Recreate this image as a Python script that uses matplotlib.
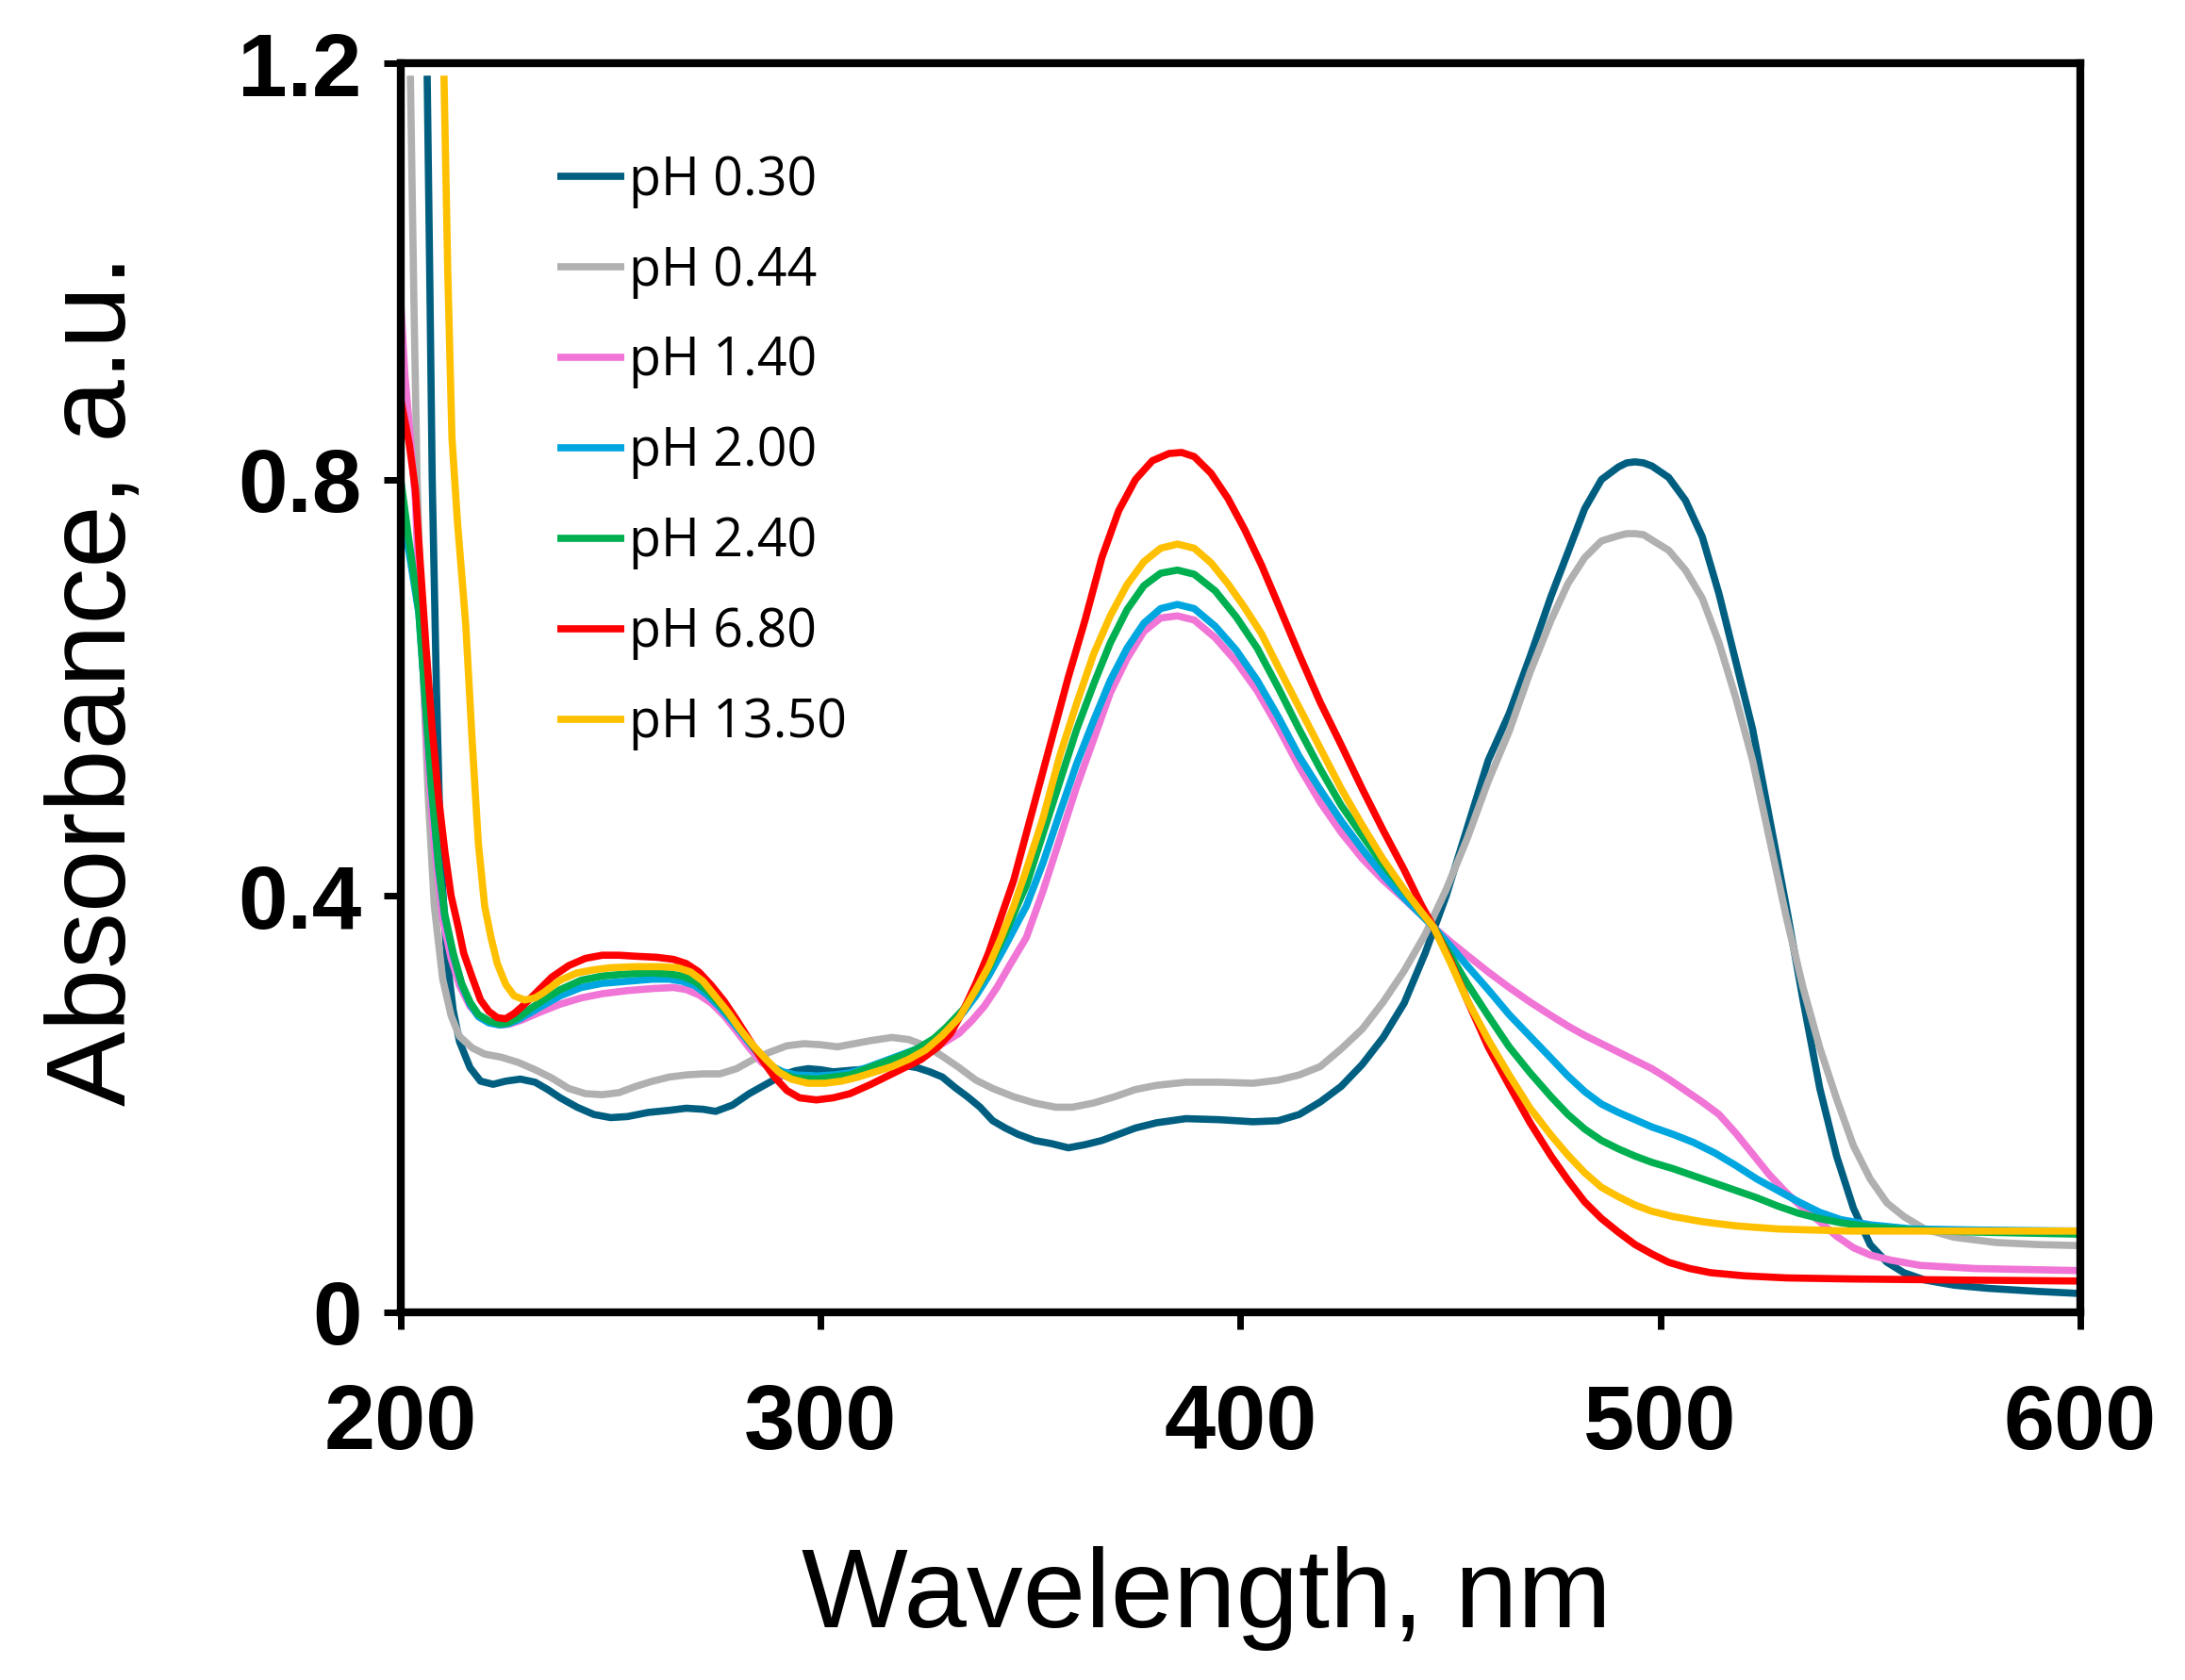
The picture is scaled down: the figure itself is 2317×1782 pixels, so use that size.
import matplotlib
matplotlib.use("Agg")
import matplotlib.pyplot as plt

# -----------------------------
# Data
# -----------------------------
wl_030 = [206.3, 206.9, 207.5, 208.5, 209.5, 211, 212.5, 214, 216.5, 219, 222, 225, 228.5, 232, 235, 238,
          242, 246, 250, 254, 259, 264, 268, 272, 275, 279, 283, 287, 291, 294, 297, 300, 303, 306, 309,
          313, 317, 320, 323, 326, 329, 332, 335, 338, 341, 344, 347, 351, 355, 359, 363, 367, 371, 375,
          380, 387, 395, 403, 409, 414, 419, 424, 429, 434, 439, 444, 449, 454, 459, 464, 469, 474, 478,
          482, 486, 490, 492, 494, 496, 498, 502, 506, 510, 514, 518, 522, 526, 530, 534, 538, 542, 546,
          550, 554, 558, 563, 570, 578, 590, 600]
abs_030 = [1.188, 1.0, 0.8, 0.6, 0.44, 0.34, 0.29, 0.26, 0.235, 0.222, 0.219, 0.222, 0.224, 0.221, 0.214,
           0.206, 0.197, 0.19, 0.187, 0.188, 0.192, 0.194, 0.196, 0.195, 0.193, 0.199, 0.21, 0.219, 0.228,
           0.232, 0.234, 0.233, 0.231, 0.232, 0.233, 0.234, 0.236, 0.237, 0.235, 0.231, 0.226, 0.216, 0.207,
           0.197, 0.184, 0.177, 0.171, 0.165, 0.162, 0.158, 0.161, 0.165, 0.171, 0.177, 0.182, 0.186, 0.185,
           0.183, 0.184, 0.19, 0.202, 0.217, 0.238, 0.264, 0.297, 0.345, 0.4, 0.465, 0.53, 0.575, 0.63,
           0.688, 0.73, 0.772, 0.8, 0.812, 0.816, 0.817, 0.816, 0.813, 0.802, 0.78, 0.745, 0.69, 0.625,
           0.56, 0.475, 0.39, 0.3, 0.215, 0.15, 0.1, 0.065, 0.048, 0.038, 0.031, 0.026, 0.023, 0.02, 0.018]

wl_044 = [202.3, 203.1, 203.9, 204.5, 205.5, 206.5, 208, 210, 212, 214, 217, 220, 224, 228, 232, 236, 240,
          244, 248, 252, 256, 260, 264, 268, 272, 276, 280, 284, 288, 292, 296, 300, 304, 308, 312, 317,
          321, 325, 329, 333, 337, 341, 346, 351, 356, 360, 365, 370, 375, 380, 387, 395, 403, 409, 414,
          419, 424, 429, 434, 439, 444, 449, 454, 459, 464, 469, 474, 478, 482, 486, 490, 492, 494, 496,
          498, 502, 506, 510, 514, 518, 522, 526, 530, 534, 538, 542, 546, 550, 554, 558, 563, 570, 580,
          590, 600]
abs_044 = [1.188, 0.98, 0.8, 0.72, 0.6, 0.5, 0.39, 0.32, 0.285, 0.265, 0.254, 0.248, 0.245, 0.24, 0.233,
           0.225, 0.215, 0.21, 0.209, 0.211, 0.217, 0.222, 0.226, 0.228, 0.229, 0.229, 0.234, 0.243, 0.25,
           0.256, 0.258, 0.257, 0.255, 0.258, 0.261, 0.264, 0.262, 0.256, 0.246, 0.235, 0.223, 0.215, 0.207,
           0.201, 0.197, 0.197, 0.201, 0.207, 0.214, 0.218, 0.221, 0.221, 0.22, 0.223, 0.228, 0.236, 0.253,
           0.272, 0.298, 0.328, 0.363, 0.406, 0.455, 0.51, 0.558, 0.615, 0.665, 0.7, 0.725, 0.741, 0.746,
           0.748, 0.748, 0.747, 0.742, 0.732, 0.713, 0.686, 0.643, 0.59, 0.53, 0.455, 0.38, 0.312, 0.254,
           0.205, 0.16, 0.128, 0.105, 0.092, 0.08, 0.072, 0.067, 0.065, 0.064]

wl_140 = [200, 201, 202.3, 203.5, 204.3, 206.3, 208, 210, 212, 214, 216.5, 219, 221.5, 224, 226, 229, 233,
          238, 243, 248, 254, 260, 265, 268, 271, 274, 277, 280, 283, 286, 289, 292, 296, 300, 305, 310,
          315, 320, 325, 329, 333, 336, 339, 342, 345, 349, 353, 357, 361, 365, 369, 373, 377, 381, 385,
          389, 394, 399, 404, 409, 414, 419, 424, 429, 434, 439, 443, 446, 450, 454, 459, 464, 469, 474,
          478, 482, 486, 490, 494, 498, 502, 506, 510, 514, 518, 522, 526, 530, 534, 538, 542, 546, 550,
          555, 562, 575, 600]
abs_140 = [0.97, 0.9, 0.84, 0.78, 0.7, 0.54, 0.45, 0.378, 0.34, 0.314, 0.294, 0.283, 0.278, 0.276, 0.277,
           0.281, 0.288, 0.296, 0.302, 0.306, 0.309, 0.311, 0.312, 0.31, 0.305, 0.297, 0.285, 0.27, 0.254,
           0.24, 0.231, 0.226, 0.225, 0.226, 0.228, 0.232, 0.238, 0.245, 0.251, 0.258, 0.268, 0.28, 0.294,
           0.312, 0.333, 0.36, 0.405, 0.455, 0.505, 0.55, 0.595, 0.628, 0.654, 0.667, 0.669, 0.665, 0.648,
           0.625, 0.597, 0.562, 0.524, 0.49, 0.461, 0.436, 0.415, 0.397, 0.382, 0.37, 0.356, 0.343, 0.327,
           0.312, 0.298, 0.285, 0.275, 0.266, 0.258, 0.25, 0.242, 0.234, 0.224, 0.213, 0.202, 0.19, 0.172,
           0.152, 0.132, 0.115, 0.1, 0.087, 0.073, 0.062, 0.055, 0.05, 0.045, 0.042, 0.04]

wl_base = [200, 202, 204.3, 206, 207.3, 209, 210.5, 212.5, 214.5, 216.5, 218.5, 221, 223.5, 225.5, 228, 231,
           234, 238, 243, 248, 254, 260, 264, 267, 270, 273, 276, 279, 282, 285, 288, 291, 294, 299, 303,
           307, 311, 315, 319, 323, 327, 330, 334, 337, 340, 344, 347, 349, 353, 357, 361, 365, 369, 373,
           377, 381, 385, 389, 394, 399, 404, 409, 414, 419, 424, 429, 434, 439, 443, 446, 450, 454, 459,
           464, 469, 474, 478, 482, 486, 490, 494, 498, 503, 508, 513, 518, 523, 528, 533, 538, 543, 550,
           560, 575, 600]
abs_200 = [0.77, 0.73, 0.672, 0.578, 0.505, 0.428, 0.38, 0.343, 0.315, 0.296, 0.284, 0.278, 0.276, 0.277,
           0.281, 0.288, 0.295, 0.304, 0.312, 0.316, 0.318, 0.32, 0.32, 0.318, 0.314, 0.305, 0.293, 0.279,
           0.264, 0.249, 0.237, 0.231, 0.228, 0.227, 0.228, 0.23, 0.235, 0.241, 0.247, 0.253, 0.262, 0.272,
           0.288, 0.304, 0.323, 0.352, 0.375, 0.39, 0.432, 0.48, 0.527, 0.568, 0.607, 0.638, 0.662, 0.676,
           0.68, 0.676, 0.659, 0.636, 0.607, 0.572, 0.534, 0.502, 0.472, 0.445, 0.42, 0.398, 0.382, 0.37,
           0.352, 0.333, 0.31, 0.286, 0.265, 0.244, 0.227, 0.212, 0.2, 0.192, 0.185, 0.178, 0.171, 0.163,
           0.153, 0.141, 0.128, 0.117, 0.106, 0.096, 0.089, 0.084, 0.08, 0.079, 0.078]
abs_240 = [0.80, 0.74, 0.674, 0.58, 0.507, 0.43, 0.382, 0.345, 0.316, 0.298, 0.286, 0.28, 0.277, 0.278,
           0.283, 0.292, 0.3, 0.31, 0.319, 0.323, 0.325, 0.326, 0.325, 0.323, 0.318, 0.309, 0.296, 0.282,
           0.266, 0.25, 0.237, 0.229, 0.225, 0.224, 0.226, 0.228, 0.234, 0.24, 0.246, 0.253, 0.263, 0.274,
           0.291, 0.309, 0.33, 0.364, 0.392, 0.41, 0.46, 0.51, 0.56, 0.603, 0.643, 0.675, 0.698, 0.71,
           0.713, 0.709, 0.693, 0.668, 0.638, 0.6, 0.56, 0.522, 0.487, 0.458, 0.43, 0.405, 0.385, 0.37,
           0.343, 0.316, 0.285, 0.255, 0.23, 0.207, 0.19, 0.176, 0.165, 0.157, 0.15, 0.144, 0.138, 0.131,
           0.124, 0.117, 0.11, 0.102, 0.095, 0.09, 0.086, 0.082, 0.079, 0.077, 0.075]

wl_680 = [200, 202, 203.5, 204.3, 206, 207.5, 209, 210.5, 212, 213.7, 215, 217, 219, 221, 223, 225, 227, 229,
          232, 236, 240, 244, 248, 252, 256, 261, 265, 268, 271, 274, 277, 280, 283, 286, 289, 292, 295,
          299, 303, 307, 312, 316, 320, 324, 328, 331, 334, 337, 340, 343, 346, 349, 352, 355, 359, 363,
          367, 371, 375, 379, 383, 386, 389, 393, 397, 401, 405, 409, 414, 419, 424, 429, 434, 439, 443,
          446, 450, 454, 459, 464, 469, 474, 478, 482, 486, 490, 494, 498, 502, 507, 512, 520, 530, 545,
          570, 600]
abs_680 = [0.877, 0.835, 0.79, 0.74, 0.64, 0.56, 0.495, 0.443, 0.4, 0.37, 0.345, 0.322, 0.3, 0.289, 0.283,
           0.282, 0.287, 0.294, 0.306, 0.322, 0.333, 0.34, 0.343, 0.343, 0.342, 0.341, 0.339, 0.335, 0.327,
           0.314, 0.299, 0.281, 0.262, 0.243, 0.226, 0.213, 0.206, 0.204, 0.206, 0.21, 0.219, 0.227, 0.235,
           0.243, 0.255, 0.268, 0.29, 0.316, 0.345, 0.38, 0.415, 0.46, 0.505, 0.55, 0.61, 0.665, 0.725, 0.77,
           0.8, 0.818, 0.825, 0.826, 0.822, 0.806, 0.782, 0.752, 0.718, 0.68, 0.632, 0.586, 0.545, 0.503,
           0.463, 0.425, 0.392, 0.37, 0.338, 0.3, 0.255, 0.218, 0.182, 0.15, 0.127, 0.106, 0.09, 0.077,
           0.065, 0.056, 0.048, 0.042, 0.038, 0.035, 0.033, 0.032, 0.031, 0.03]

wl_1350 = [210.3, 211.2, 212.2, 213.5, 214.5, 215.5, 217, 218.5, 220, 221.5, 223, 225, 227, 229.5, 232, 234,
           238, 242, 246, 250, 256, 262, 266, 269, 272, 275, 278, 281, 284, 287, 290, 293, 297, 301, 305,
           309, 313, 317, 321, 325, 329, 333, 337, 340, 343, 346, 349, 353, 357, 361, 365, 369, 373, 377,
           381, 385, 389, 393, 397, 401, 405, 409, 414, 419, 424, 429, 434, 439, 443, 446, 450, 454, 459,
           464, 469, 474, 478, 482, 486, 490, 494, 498, 503, 510, 518, 528, 545, 570, 600]
abs_1350 = [1.188, 1.0, 0.84, 0.76, 0.71, 0.66, 0.55, 0.45, 0.39, 0.36, 0.335, 0.315, 0.304, 0.3, 0.302,
            0.307, 0.319, 0.326, 0.329, 0.331, 0.332, 0.332, 0.331, 0.327, 0.318, 0.303, 0.288, 0.271, 0.256,
            0.243, 0.231, 0.224, 0.22, 0.22, 0.222, 0.226, 0.231, 0.236, 0.243, 0.252, 0.266, 0.283, 0.31,
            0.332, 0.36, 0.39, 0.425, 0.475, 0.535, 0.585, 0.632, 0.669, 0.699, 0.721, 0.734, 0.738, 0.734,
            0.72, 0.7, 0.677, 0.652, 0.62, 0.581, 0.542, 0.503, 0.468, 0.435, 0.406, 0.385, 0.37, 0.336, 0.3,
            0.262, 0.228, 0.196, 0.17, 0.151, 0.134, 0.12, 0.111, 0.103, 0.097, 0.092, 0.087, 0.083, 0.08,
            0.078, 0.078, 0.078]

labels = ["pH 0.30", "pH 0.44", "pH 1.40", "pH 2.00", "pH 2.40", "pH 6.80", "pH 13.50"]
colors = ["#005f80", "#b0b0b0", "#f075d6", "#00a6df", "#00b050", "#ff0000", "#ffc000"]

series = [
    (wl_030, abs_030),
    (wl_044, abs_044),
    (wl_140, abs_140),
    (wl_base, abs_200),
    (wl_base, abs_240),
    (wl_680, abs_680),
    (wl_1350, abs_1350),
]

x_ticks = [200, 300, 400, 500, 600]
y_ticks = [0, 0.4, 0.8, 1.2]
y_tick_labels = ["0", "0.4", "0.8", "1.2"]

# -----------------------------
# Plot
# -----------------------------
plt.rcParams['font.family'] = ['Liberation Sans', 'DejaVu Sans']

fig = plt.figure(figsize=(23.17, 17.82), dpi=100)
ax = fig.add_axes([0.1834, 0.2189, 0.7686, 0.7435])

for (wl, a), lab, col in zip(series, labels, colors):
    ax.plot(wl, a, color=col, lw=5.5, label=lab, solid_joinstyle='round', solid_capstyle='butt')

ax.set_xlim(200, 600)
ax.set_ylim(0, 1.2)
ax.set_xticks(x_ticks)
ax.set_yticks(y_ticks)
ax.set_yticklabels(y_tick_labels)

for sp in ax.spines.values():
    sp.set_linewidth(6)

ax.tick_params(axis='both', direction='out', length=13, width=5)
ax.tick_params(axis='x', pad=41, labelsize=70)
ax.tick_params(axis='y', pad=17, labelsize=68)
for t in ax.get_xticklabels() + ax.get_yticklabels():
    t.set_fontweight('bold')

ax.set_xlabel("Wavelength, nm", fontsize=86, va='top')
ax.set_ylabel("Absorbance, a.u.", fontsize=86)
ax.xaxis.set_label_coords(0.48, -0.187)
ax.yaxis.set_label_coords(-0.15, 0.506)

leg = ax.legend(loc='upper left', bbox_to_anchor=(0.093, 0.927), frameon=False,
                prop={'family': ['Open Sans', 'DejaVu Sans'], 'size': 40},
                handlelength=1.28, handletextpad=0.1, labelspacing=0.70,
                borderpad=0, borderaxespad=0)
for line in leg.get_lines():
    line.set_linewidth(5.5)

fig.savefig("out.png", dpi=100)
